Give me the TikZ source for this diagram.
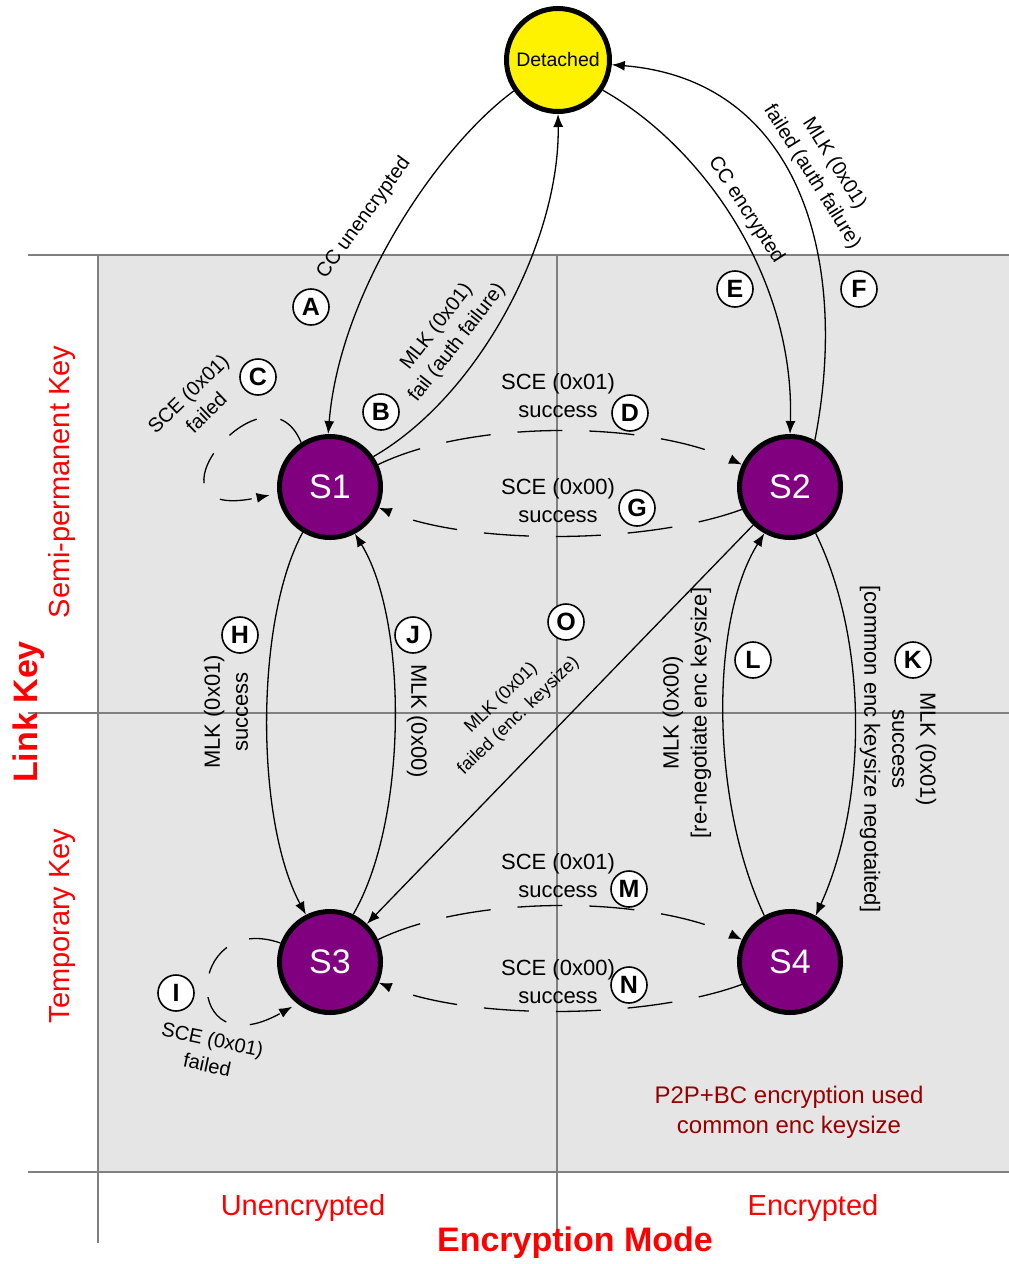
\documentclass[tikz,border=0pt]{standalone}
\usepackage{fontspec}
\setmainfont{Liberation Sans}
\usetikzlibrary{arrows.meta}
\definecolor{bggrey}{RGB}{229,229,229}
\definecolor{linegrey}{RGB}{128,128,128}
\definecolor{stpurple}{RGB}{128,0,128}
\definecolor{darkred}{RGB}{150,0,0}
\begin{document}
\begin{tikzpicture}[x=1pt,y=-1pt,
  stnode/.style={circle, draw=black, line width=5pt, fill=stpurple, minimum size=101pt, inner sep=0pt, text=white, font=\fontsize{34}{40}\selectfont},
  detnode/.style={circle, draw=black, line width=5pt, fill=yellow, minimum size=103pt, inner sep=0pt, font=\fontsize{19.5}{22}\selectfont},
  badge/.style={circle, draw=black, line width=1.6pt, fill=white, minimum size=36pt, inner sep=0pt, font=\fontsize{25}{30}\selectfont\bfseries},
  lbl/.style={align=center, font=\fontsize{22}{28}\selectfont, inner sep=0pt},
  slbl/.style={align=center, font=\fontsize{20}{26}\selectfont, inner sep=0pt},
  olbl/.style={align=center, font=\fontsize{18}{25}\selectfont, inner sep=0pt},
  tr/.style={draw=black, line width=1.3pt, -{Latex[length=13pt,width=10pt]}},
  dtr/.style={tr, dash pattern=on 45pt off 27pt},
  ltr/.style={tr, dash pattern=on 32pt off 24pt},
  gridline/.style={draw=linegrey, line width=2pt},
  axis/.style={text=red, inner sep=0pt, font=\fontsize{29}{34}\selectfont},
  axisb/.style={text=red, inner sep=0pt, font=\fontsize{34}{40}\selectfont\bfseries},
  note/.style={text=darkred, align=center, inner sep=0pt, font=\fontsize{24}{30}\selectfont},
]
\useasboundingbox (0,0) rectangle (1009,1264);
\fill[bggrey] (98,255) rectangle (1009,1172);
\draw[gridline] (28,255) -- (1009,255);
\draw[gridline] (28,713) -- (1009,713);
\draw[gridline] (28,1172) -- (1009,1172);
\draw[gridline] (98,255) -- (98,1243);
\draw[gridline] (557,255) -- (557,1240);

% axis labels
\node[axis, rotate=90] (semi) at (62,482) {Semi-permanent Key};
\node[axis, rotate=90] (temp) at (63,926) {Temporary Key};
\node[axisb, rotate=90] (lk) at (29,712) {Link Key};
\node[axis] (unenc) at (303,1208) {Unencrypted};
\node[axis] (enc) at (813,1208) {Encrypted};
\node[axisb] (em) at (575,1243) {Encryption Mode};
\node[note] (p2p) at (789,1112) {P2P+BC encryption used\\common enc keysize};

% states
\node[detnode] (Det) at (558,60) {Detached};
\node[stnode] (S1) at (330,487) {S1};
\node[stnode] (S2) at (790,487) {S2};
\node[stnode] (S3) at (330,962) {S3};
\node[stnode] (S4) at (790,962) {S4};

% transitions
\draw[tr] (Det.215) .. controls (440,145) and (340,290) .. (S1.92);
\draw[tr] (S1.35) .. controls (480,395) and (560,240) .. (Det.270);
\draw[tr] (Det.326) .. controls (705,148) and (795,280) .. (S2.90);
\draw[tr] (S2.62) .. controls (850,260) and (800,80) .. (Det.-5);
\draw[dtr] (S1.25) .. controls (470,420) and (645,420) .. (S2.155);
\draw[dtr] (S2.205) .. controls (645,545) and (470,545) .. (S1.337);
\draw[dtr] (S3.25) .. controls (470,895) and (645,895) .. (S4.155);
\draw[dtr] (S4.205) .. controls (645,1020) and (470,1020) .. (S3.337);
\draw[tr] (S1.239) .. controls (255,620) and (255,820) .. (S3.117);
\draw[tr] (S3.64) .. controls (408,820) and (408,620) .. (S1.298);
\draw[tr] (S2.299) .. controls (868,640) and (868,800) .. (S4.61);
\draw[tr] (S4.119) .. controls (710,800) and (710,620) .. (S2.241);
\draw[tr] (S2) -- (S3);
\draw[ltr, shorten >=8pt] (S1.123) .. controls (265,355) and (130,525) .. (S1.187);
\draw[ltr, shorten >=6pt] (S3.159) .. controls (185,910) and (180,1070) .. (S3.232);

% edge labels
\node[slbl, rotate=54] (lA) at (364,218) {CC unencrypted};
\node[slbl, rotate=52] (lB) at (447,335) {MLK (0x01)\\fail (auth failure)};
\node[slbl, rotate=44] (lC) at (197,403) {SCE (0x01)\\failed};
\node[slbl, rotate=-57] (lE) at (746,210) {CC encrypted};
\node[slbl, rotate=-58] (lF) at (823,170) {MLK (0x01)\\failed (auth failure)};
\node[lbl] (lD) at (558,396) {SCE (0x01)\\success};
\node[lbl] (lG) at (558,501) {SCE (0x00)\\success};
\node[lbl] (lM) at (558,876) {SCE (0x01)\\success};
\node[lbl] (lN) at (558,982) {SCE (0x00)\\success};
\node[lbl, rotate=90] (lH) at (226,712) {MLK (0x01)\\success};
\node[lbl, rotate=-90] (lJ) at (417,721) {MLK (0x00)};
\node[lbl, rotate=90] (lL) at (687,713) {MLK (0x00)\\{[re-negotiate enc keysize]}};
\node[lbl, rotate=-90] (lK) at (898,749) {MLK (0x01)\\success\\{[common enc keysize negotaited]}};
\node[olbl, rotate=44] (lO) at (510,707) {MLK (0x01)\\failed (enc. keysize)};
\node[slbl, rotate=-12] (lI) at (210,1052) {SCE (0x01)\\failed};

% badges
\node[badge] (bA) at (311,307) {A};
\node[badge] (bB) at (381,412) {B};
\node[badge] (bC) at (258,377) {C};
\node[badge] (bD) at (630,413) {D};
\node[badge] (bE) at (735,289) {E};
\node[badge] (bF) at (859,289) {F};
\node[badge] (bG) at (637,508) {G};
\node[badge] (bH) at (240,635) {H};
\node[badge] (bJ) at (413,635) {J};
\node[badge] (bO) at (566,622) {O};
\node[badge] (bL) at (753,660) {L};
\node[badge] (bK) at (913,660) {K};
\node[badge] (bM) at (629,889) {M};
\node[badge] (bN) at (629,985) {N};
\node[badge] (bI) at (176,993) {I};
\end{tikzpicture}
\end{document}
